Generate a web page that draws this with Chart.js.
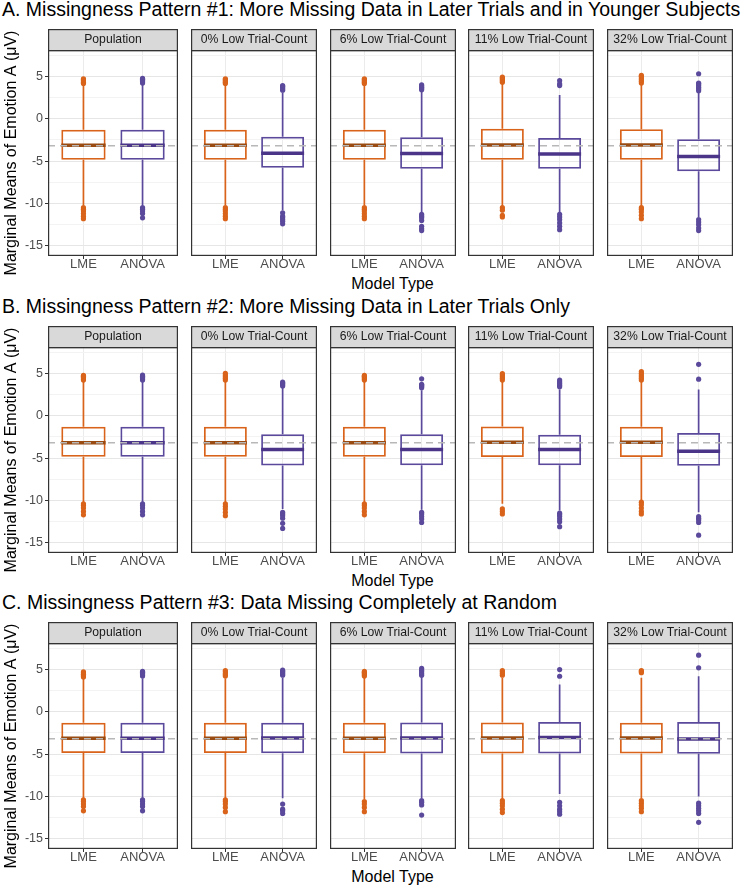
<!DOCTYPE html>
<html>
<head>
<meta charset="utf-8">
<script src="https://cdn.jsdelivr.net/npm/chart.js@4/dist/chart.umd.min.js"></script>
<style>
  body { margin: 0; background: #fff; width: 748px; height: 887px; position: relative; overflow: hidden;
         font-family: "Liberation Sans", Arial, sans-serif; }
  .ptitle { position: absolute; left: 2px; font-size: 19.5px; line-height: 20px; color: #000; white-space: nowrap; }
  .xtitle { position: absolute; left: 48px; width: 689px; text-align: center; font-size: 16px; line-height: 18px; color: #000; }
  canvas { position: absolute; }
</style>
</head>
<body>
<script>
const panelTitles = [
    "A. Missingness Pattern #1: More Missing Data in Later Trials and in Younger Subjects",
    "B. Missingness Pattern #2: More Missing Data in Later Trials Only",
    "C. Missingness Pattern #3: Data Missing Completely at Random"
];
const facetLabels = ["Population", "0% Low Trial-Count", "6% Low Trial-Count", "11% Low Trial-Count", "32% Low Trial-Count"];
const modelTypes = ["LME", "ANOVA"];
const yMajorTicks = [-15, -10, -5, 0, 5];
const yMinorTicks = [-12.5, -7.5, -2.5, 2.5, 7.5];
const yLimits = [-16.2, 8.1];
const populationMean = -3.2;

// box stats per facet: [lower whisker, Q1, median, Q3, upper whisker]
const lmeBoxA = [[-10.2, -4.86, -3.15, -1.3, 4.0], [-10.2, -4.86, -3.15, -1.3, 4.0], [-10.2, -4.86, -3.15, -1.3, 4.0], [-10.3, -4.86, -3.1, -1.18, 4.1], [-10.3, -4.86, -3.1, -1.25, 4.0]];
const anovaBoxA = [[-10.2, -4.86, -3.15, -1.3, 4.0], [-10.8, -5.8, -4.08, -2.12, 3.1], [-11.0, -5.9, -4.1, -2.2, 3.2], [-11.1, -5.9, -4.16, -2.27, 2.8], [-11.6, -6.2, -4.47, -2.43, 3.1]];
const lmeOutA = [
    [4.15, 4.3, 4.45, 4.6, 4.7, -10.5, -10.7, -10.9, -11.2, -11.5, -11.8],
    [4.15, 4.3, 4.45, 4.6, 4.7, -10.5, -10.7, -10.9, -11.2, -11.5, -11.8],
    [4.15, 4.3, 4.45, 4.6, 4.7, -10.5, -10.7, -10.9, -11.2, -11.5, -11.8],
    [4.3, 4.45, 4.6, 4.75, 4.9, -10.5, -10.8, -11.4, -11.6],
    [4.2, 4.4, 4.6, 4.8, 5.0, 5.1, -10.5, -10.7, -11.0, -11.4, -11.8]
];
const anovaOutA = [
    [4.2, 4.35, 4.5, 4.65, 4.75, -10.5, -10.7, -10.9, -11.2, -11.7],
    [3.35, 3.5, 3.65, 3.8, 3.9, -11.1, -11.5, -11.7, -11.9, -12.1, -12.4],
    [3.4, 3.55, 3.7, 3.85, 4.0, -11.3, -11.5, -11.7, -12.0, -12.7, -13.0, -13.2],
    [3.9, 4.1, 4.5, -11.3, -11.6, -11.9, -12.3, -12.7, -13.1],
    [3.3, 3.5, 3.7, 3.9, 4.1, 4.2, 5.3, -11.9, -12.2, -12.5, -12.9, -13.2]
];

const lmeBoxB = [[-10.2, -4.84, -3.19, -1.3, 4.0], [-10.2, -4.84, -3.19, -1.3, 4.0], [-10.2, -4.84, -3.19, -1.3, 4.0], [-10.4, -4.88, -3.15, -1.27, 4.0], [-10.0, -4.88, -3.15, -1.3, 4.0]];
const anovaBoxB = [[-10.2, -4.84, -3.19, -1.3, 4.0], [-11.0, -5.87, -4.0, -2.2, 3.3], [-11.1, -5.85, -4.0, -2.2, 3.0], [-11.2, -5.85, -4.0, -2.25, 3.1], [-11.4, -5.9, -4.21, -2.05, 3.1]];
const lmeOutB = [
    [4.2, 4.35, 4.5, 4.65, 4.75, -10.4, -10.6, -10.9, -11.3, -11.7],
    [4.2, 4.4, 4.6, 4.8, 5.0, -10.4, -10.7, -11.0, -11.4, -11.8],
    [4.2, 4.35, 4.5, 4.65, 4.75, -10.4, -10.6, -10.9, -11.3, -11.7],
    [4.2, 4.4, 4.6, 4.8, 4.95, -11.0, -11.3, -11.6],
    [4.2, 4.4, 4.6, 4.8, 5.0, 5.2, -10.2, -10.5, -10.9, -11.3, -11.6]
];
const anovaOutB = [
    [4.2, 4.35, 4.5, 4.65, 4.8, -10.4, -10.6, -10.9, -11.3, -11.7],
    [3.5, 3.65, 3.8, 3.95, -11.4, -11.6, -11.8, -12.1, -12.7, -13.3],
    [3.3, 3.45, 3.6, 3.7, 4.35, -11.4, -11.6, -11.9, -12.2, -12.6],
    [3.4, 3.6, 3.8, 4.0, 4.2, -11.5, -11.7, -11.9, -12.2, -12.5, -13.1],
    [4.3, 6.06, -11.9, -12.1, -12.3, -12.6, -14.1]
];

const lmeBoxC = [[-10.2, -4.89, -3.15, -1.3, 3.9], [-10.2, -4.89, -3.15, -1.3, 3.9], [-10.3, -4.9, -3.15, -1.3, 4.0], [-10.3, -4.94, -3.12, -1.27, 4.0], [-10.2, -4.94, -3.12, -1.3, 4.0]];
const anovaBoxC = [[-10.2, -4.89, -3.15, -1.3, 3.9], [-10.2, -4.9, -3.12, -1.3, 4.0], [-10.2, -4.94, -3.12, -1.27, 4.1], [-9.7, -4.94, -3.04, -1.22, 3.2], [-10.0, -4.97, -3.23, -1.22, 4.18]];
const lmeOutC = [
    [4.1, 4.25, 4.4, 4.55, 4.7, -10.4, -10.6, -10.9, -11.2, -11.7],
    [4.2, 4.35, 4.5, 4.7, 4.85, -10.4, -10.6, -10.9, -11.3, -11.8],
    [4.2, 4.35, 4.5, 4.65, 4.75, -10.6, -10.9, -11.3, -11.8],
    [4.3, 4.5, 4.7, 4.85, -10.5, -10.8, -11.1, -11.5, -11.9],
    [4.6, 4.75, 4.85, -10.5, -10.8, -11.1, -11.4, -11.8]
];
const anovaOutC = [
    [4.2, 4.35, 4.5, 4.65, 4.75, -10.4, -10.6, -10.9, -11.2, -11.7],
    [4.3, 4.45, 4.6, 4.75, 4.9, -10.9, -11.5, -11.7, -12.0],
    [4.3, 4.5, 4.7, 4.9, 5.1, -10.5, -10.7, -11.0, -12.2],
    [4.18, 4.97, -10.7, -11.1, -11.5, -11.8, -12.1],
    [5.17, 6.66, -10.8, -11.1, -11.4, -11.7, -12.0, -13.05]
];

const panels = [
    { lme: lmeBoxA, anova: anovaBoxA, lmeOut: lmeOutA, anovaOut: anovaOutA },
    { lme: lmeBoxB, anova: anovaBoxB, lmeOut: lmeOutB, anovaOut: anovaOutB },
    { lme: lmeBoxC, anova: anovaBoxC, lmeOut: lmeOutC, anovaOut: anovaOutC }
];

const boxColors = ["#d9631a", "#5b4a9c"];
const medianColors = ["#9a4b12", "#4a3589"];
const panelTop = [0, 297, 593];
const facetLeft = [187, 326, 464, 603];
const boxHalf = 0.375;
const font = '"Liberation Sans", Arial, sans-serif';

Chart.defaults.font.family = font;

// strip header + panel border like ggplot facets
const facetFrame = {
    id: "facetFrame",
    afterDraw(chart, args, opts) {
        const { ctx, chartArea: { left, right, top, bottom } } = chart;
        ctx.save();
        ctx.fillStyle = "#d9d9d9";
        ctx.fillRect(left, top - 21, right - left, 21);
        ctx.strokeStyle = "#333333";
        ctx.lineWidth = 1.2;
        ctx.strokeRect(left + 0.6, top - 20.4, right - left - 1.2, 21);
        ctx.strokeRect(left + 0.6, top + 0.6, right - left - 1.2, bottom - top - 1.2);
        ctx.fillStyle = "#1a1a1a";
        ctx.font = "12.2px " + font;
        ctx.textAlign = "center";
        ctx.textBaseline = "middle";
        ctx.fillText(opts.label, (left + right) / 2, top - 10);
        ctx.restore();
    }
};

function makeFacet(p, f) {
    const withAxis = f === 0;
    const canvas = document.createElement("canvas");
    canvas.width = withAxis ? 182 : 134;
    canvas.height = 249;
    canvas.style.left = (withAxis ? 0 : facetLeft[f - 1]) + "px";
    canvas.style.top = (panelTop[p] + 29) + "px";
    document.body.appendChild(canvas);

    const boxes = [panels[p].lme[f], panels[p].anova[f]];
    const outs = [panels[p].lmeOut[f], panels[p].anovaOut[f]];
    const datasets = [{
        type: "line",
        data: [{ x: 0.4, y: populationMean }, { x: 2.6, y: populationMean }],
        borderColor: "#b8b8b8", borderWidth: 1.5, borderDash: [7, 5], pointRadius: 0, order: 0
    }];
    boxes.forEach((b, i) => {
        const x = i + 1;
        datasets.push({
            type: "line",
            data: [{ x: x - boxHalf, y: b[2] }, { x: x + boxHalf, y: b[2] }],
            borderColor: medianColors[i], borderWidth: 3.5, pointRadius: 0, order: 1
        });
        datasets.push({
            type: "line",
            data: [{ x, y: b[0] }, { x, y: b[1] }, { x, y: null }, { x, y: b[3] }, { x, y: b[4] }],
            borderColor: boxColors[i], borderWidth: 1.7, pointRadius: 0, spanGaps: false, order: 3
        });
        datasets.push({
            type: "scatter",
            data: outs[i].map(v => ({ x, y: v })),
            backgroundColor: boxColors[i], borderWidth: 0, pointRadius: 2.6, order: 2
        });
    });
    datasets.push({
        type: "bar",
        data: boxes.map((b, i) => ({ x: i + 1, y: [b[1], b[3]] })),
        borderColor: boxColors, backgroundColor: "rgba(255,255,255,0)",
        borderWidth: 1.8, borderSkipped: false, grouped: false,
        barPercentage: 0.75, categoryPercentage: 1, order: 2
    });

    new Chart(canvas, {
        type: "bar",
        data: { datasets },
        options: {
            responsive: false,
            animation: false,
            devicePixelRatio: 1,
            layout: { padding: { top: 21, left: 0, right: 0, bottom: 0 } },
            plugins: {
                legend: { display: false },
                tooltip: { enabled: false },
                facetFrame: { label: facetLabels[f] }
            },
            scales: {
                x: {
                    type: "linear", min: 0.4, max: 2.6, offset: false,
                    afterBuildTicks: s => { s.ticks = modelTypes.map((_, i) => ({ value: i + 1 })); },
                    afterFit: s => { s.height = 22; },
                    ticks: {
                        callback: v => modelTypes[v - 1] || "",
                        font: { size: 13 }, color: "#4d4d4d", padding: -2, maxRotation: 0, autoSkip: false
                    },
                    grid: { offset: false, color: "#ebebeb", lineWidth: 1, tickLength: 3, tickColor: "#333333" },
                    border: { display: false }
                },
                y: {
                    min: yLimits[0], max: yLimits[1],
                    afterBuildTicks: s => {
                        s.ticks = yMajorTicks.concat(yMinorTicks).sort((a, b) => a - b).map(v => ({ value: v }));
                    },
                    afterFit: s => { s.width = withAxis ? 48 : 0; },
                    ticks: {
                        display: withAxis,
                        callback: v => yMajorTicks.includes(v) ? String(v) : "",
                        font: { size: 12.5 }, color: "#4d4d4d", padding: 2
                    },
                    grid: {
                        color: c => yMajorTicks.includes(c.tick.value) ? "#e6e6e6" : "#f3f3f3",
                        lineWidth: 1,
                        drawTicks: withAxis, tickLength: 3,
                        tickColor: c => yMajorTicks.includes(c.tick.value) ? "#333333" : "rgba(0,0,0,0)"
                    },
                    border: { display: false },
                    title: {
                        display: withAxis, text: "Marginal Means of Emotion A (μV)",
                        font: { size: 16 }, color: "#000", padding: { top: 2, bottom: 0 }
                    }
                }
            }
        },
        plugins: [facetFrame]
    });
}

panelTitles.forEach((t, p) => {
    const title = document.createElement("div");
    title.className = "ptitle";
    title.style.top = (panelTop[p] - 1) + "px";
    title.textContent = t;
    document.body.appendChild(title);

    const xt = document.createElement("div");
    xt.className = "xtitle";
    xt.style.top = (panelTop[p] + 275) + "px";
    xt.textContent = "Model Type";
    document.body.appendChild(xt);

    facetLabels.forEach((_, f) => makeFacet(p, f));
});
</script>
</body>
</html>
